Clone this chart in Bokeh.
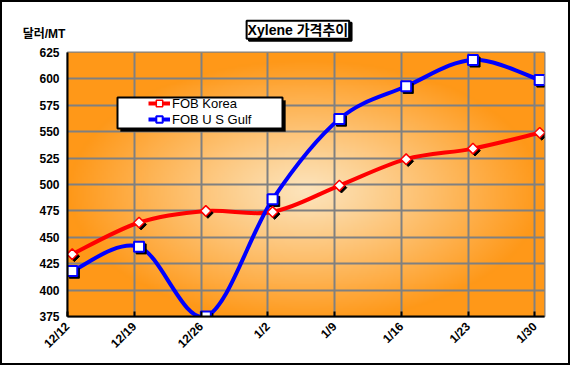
import numpy as np
from math import pi
from bokeh.plotting import figure
from bokeh.models import (Range1d, FixedTicker, Label, Legend, LegendItem,
                          BoxAnnotation, ColumnDataSource)
from bokeh.transform import dodge
from bokeh.embed import file_html
from bokeh.resources import INLINE

# ---- data ----
dates = ["12/12", "12/19", "12/26", "1/2", "1/9", "1/16", "1/23", "1/30"]
day_offsets = [0, 7, 14, 21, 28, 35, 42, 49]
fob_korea = [434, 464, 475, 474, 499, 524, 534, 549]
fob_usgulf = [418, 441, 375, 486, 562, 593, 618, 599]
y_ticks = [375, 400, 425, 450, 475, 500, 525, 550, 575, 600, 625]
title_text = "Xylene 가격추이"
unit_text = "달러/MT"

FONT = "Liberation Sans, Arial, 'Noto Sans CJK KR', sans-serif"

xs = [d + 0.5 for d in day_offsets]

p = figure(width=570, height=365, output_backend="svg", toolbar_location=None,
           x_range=Range1d(0, 50), y_range=Range1d(375, 625),
           min_border_left=65, min_border_right=28, min_border_top=50,
           min_border_bottom=51)
p.styles = {"border": "2px solid black", "box-sizing": "border-box"}
p.background_fill_color = "#FF9A1E"
p.border_fill_color = "white"
p.outline_line_color = "#808080"
p.outline_line_width = 2

# ---- title (box with drop shadow) and unit label, placed in the top panel ----
p.add_layout(Label(x=24.4, y=644.7, text=title_text, text_align="center",
                   text_baseline="middle", text_font=FONT, text_font_size="14px",
                   text_font_style="bold", text_color="black",
                   background_fill_color="black", border_line_color="black",
                   border_line_width=2, padding=1), "above")
p.add_layout(Label(x=24.15, y=646.6, text=title_text, text_align="center",
                   text_baseline="middle", text_font=FONT, text_font_size="14px",
                   text_font_style="bold", text_color="black",
                   background_fill_color="white", border_line_color="black",
                   border_line_width=2, padding=1), "above")
p.add_layout(Label(x=-4.7, y=642.3, text=unit_text, text_align="left",
                   text_baseline="middle", text_font=FONT, text_font_size="12px",
                   text_font_style="bold", text_color="black"), "above")

# ---- radial gradient background ----
W, H = 240, 134
gx = np.linspace(-1, 1, W)
gy = np.linspace(-1, 1, H)
GX, GY = np.meshgrid(gx, gy)
t = np.clip(np.sqrt(GX ** 2 + (GY + 0.05) ** 2), 0, 1) ** 1.1
c0 = np.array([252, 228, 188], dtype=float)
c1 = np.array([255, 152, 24], dtype=float)
img = np.empty((H, W), dtype=np.uint32)
view = img.view(dtype=np.uint8).reshape((H, W, 4))
for k in range(3):
    view[:, :, k] = (c0[k] + (c1[k] - c0[k]) * t).astype(np.uint8)
view[:, :, 3] = 255
p.image_rgba(image=[img], x=0, y=375, dw=50, dh=250, level="image")

# ---- grid / axes ----
p.xgrid.ticker = FixedTicker(ticks=day_offsets)
p.ygrid.ticker = FixedTicker(ticks=y_ticks)
for g in (p.xgrid, p.ygrid):
    g.grid_line_color = "#808080"
    g.grid_line_width = 2

xa = p.xaxis[0]
xa.ticker = FixedTicker(ticks=day_offsets)
xa.major_label_overrides = {d: lab for d, lab in zip(day_offsets, dates)}
xa.major_label_orientation = pi / 4
xa.major_label_text_font = FONT
xa.major_label_text_font_size = "12px"
xa.major_label_text_font_style = "bold"
xa.major_label_text_color = "black"
xa.major_label_standoff = 8
xa.axis_line_color = "black"
xa.axis_line_width = 2
xa.major_tick_in = 5
xa.major_tick_out = 0
xa.major_tick_line_color = "black"
xa.major_tick_line_width = 2
xa.minor_tick_line_color = None

ya = p.yaxis[0]
ya.ticker = FixedTicker(ticks=y_ticks)
ya.major_label_text_font = FONT
ya.major_label_text_font_size = "12px"
ya.major_label_text_font_style = "bold"
ya.major_label_text_color = "black"
ya.major_label_standoff = 8
ya.axis_line_color = "black"
ya.axis_line_width = 2
ya.major_tick_in = 0
ya.major_tick_out = 0
ya.minor_tick_line_color = None


# ---- smoothed curves (Bezier segments through data points) ----
def bezier_source(xv, yv):
    n = len(xv)
    d = dict(x0=[], y0=[], x1=[], y1=[], cx0=[], cy0=[], cx1=[], cy1=[])
    for i in range(n - 1):
        pi_ = max(i - 1, 0)
        ni = min(i + 2, n - 1)
        d["x0"].append(xv[i]); d["y0"].append(yv[i])
        d["x1"].append(xv[i + 1]); d["y1"].append(yv[i + 1])
        d["cx0"].append(xv[i] + (xv[i + 1] - xv[pi_]) / 6)
        d["cy0"].append(yv[i] + (yv[i + 1] - yv[pi_]) / 6)
        d["cx1"].append(xv[i + 1] - (xv[ni] - xv[i]) / 6)
        d["cy1"].append(yv[i + 1] - (yv[ni] - yv[i]) / 6)
    return ColumnDataSource(d)


rk = p.bezier(x0="x0", y0="y0", x1="x1", y1="y1", cx0="cx0", cy0="cy0",
              cx1="cx1", cy1="cy1", source=bezier_source(xs, fob_korea),
              line_color="#FF0000", line_width=4)
ru = p.bezier(x0="x0", y0="y0", x1="x1", y1="y1", cx0="cx0", cy0="cy0",
              cx1="cx1", cy1="cy1", source=bezier_source(xs, fob_usgulf),
              line_color="#0000FF", line_width=4)

src_k = ColumnDataSource(dict(x=xs, y=fob_korea))
src_u = ColumnDataSource(dict(x=xs, y=fob_usgulf))

# marker shadows
p.scatter(x=dodge("x", 0.22, range=p.x_range), y=dodge("y", -2.0, range=p.y_range),
          source=src_k, marker="square", angle=pi / 4, size=7.5,
          fill_color="black", line_color="black")
p.scatter(x=dodge("x", 0.22, range=p.x_range), y=dodge("y", -2.0, range=p.y_range),
          source=src_u, marker="square", size=10,
          fill_color="black", line_color="black")

mk = p.scatter(x="x", y="y", source=src_k, marker="square", angle=pi / 4,
               size=7.5, fill_color="white", line_color="#FF0000", line_width=1.5)
mu = p.scatter(x="x", y="y", source=src_u, marker="square", size=10,
               fill_color="white", line_color="#0000FF", line_width=2)

# ---- legend ----
p.add_layout(BoxAnnotation(left=53, right=218, top=216, bottom=185,
                           left_units="screen", right_units="screen",
                           top_units="screen", bottom_units="screen",
                           fill_color="black", fill_alpha=1, line_color="black"))
p.add_layout(BoxAnnotation(left=50, right=215, top=219, bottom=188,
                           left_units="screen", right_units="screen",
                           top_units="screen", bottom_units="screen",
                           fill_color="white", fill_alpha=1, line_color="black",
                           line_width=2, line_alpha=1))
legend = Legend(items=[LegendItem(label="FOB Korea", renderers=[rk, mk]),
                       LegendItem(label="FOB U S Gulf", renderers=[ru, mu])],
                location=(81, 189), margin=0, padding=0, spacing=0,
                glyph_width=22, glyph_height=16, label_height=16,
                label_standoff=2, border_line_color=None,
                background_fill_alpha=0,
                label_text_font=FONT, label_text_font_size="13px",
                label_text_color="black")
p.add_layout(legend, "center")

open("out.html", "w").write(file_html(p, INLINE))
